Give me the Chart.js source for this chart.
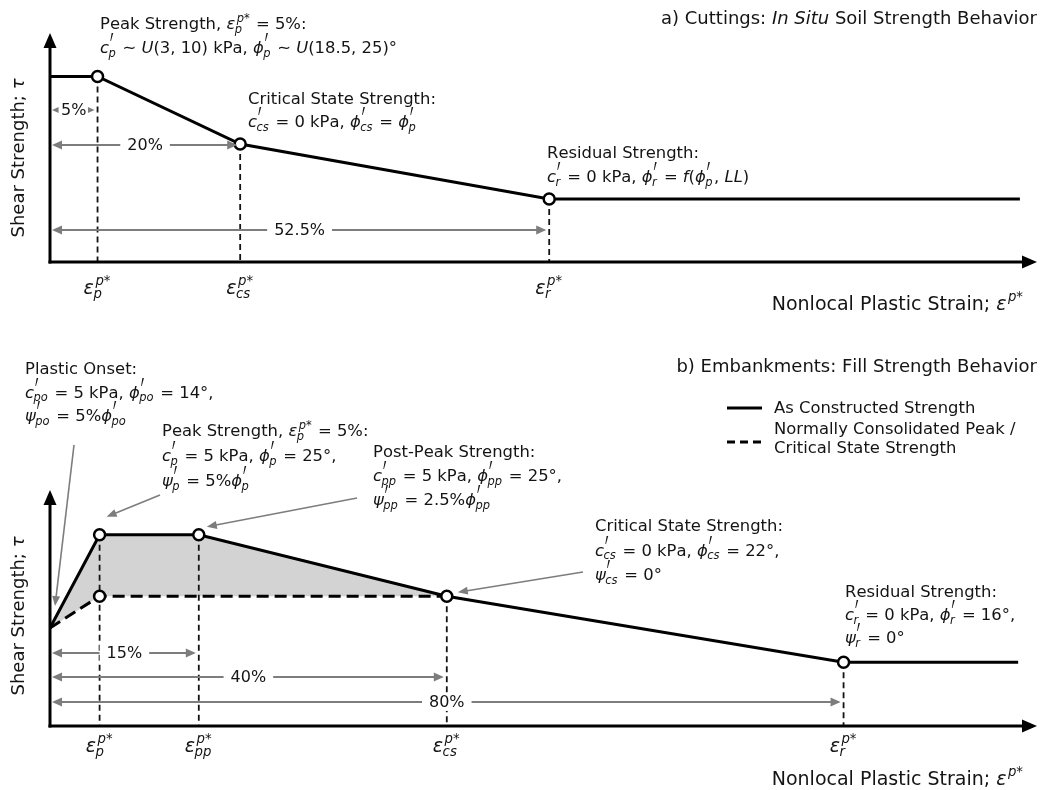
<!DOCTYPE html>
<html>
<head>
<meta charset="utf-8">
<script src="https://cdn.jsdelivr.net/npm/chart.js@4.4.0/dist/chart.umd.min.js"></script>
<style>
  html, body { margin: 0; padding: 0; background: #fff; }
  #wrap { position: relative; width: 1042px; height: 790px; overflow: hidden; }
  canvas { position: absolute; left: 0; }
  #cutCanvas { top: 0; }
  #fillCanvas { top: 330px; }
</style>
</head>
<body>
<div id="wrap">
  <canvas id="cutCanvas" width="1042" height="330"></canvas>
  <canvas id="fillCanvas" width="1042" height="460"></canvas>
</div>
<script>
// ---- a) Cuttings: in situ soil strength path (strain in %, strength in relative units) ----
const cutStrain   = [0, 5, 20, 52.5, 102];
const cutStrength = [81, 81, 51.5, 27.5, 27.5];
const cutMarked   = [false, true, true, true, false];
const cutTickStrain = [5, 20, 52.5];
const cutTickLabels = ['$\\epsilon_p^{p*}$', '$\\epsilon_{cs}^{p*}$', '$\\epsilon_r^{p*}$'];

// ---- b) Embankments: fill strength paths ----
const fillStrain   = [0, 5, 15, 40, 80, 97.6];
const fillStrength = [41.5, 81, 81, 55, 27, 27];
const fillMarked   = [false, true, true, true, true, false];
const ncStrain   = [0, 5, 40];
const ncStrength = [41.5, 55, 55];
const ncMarked   = [false, true, false];
const fillTickStrain = [5, 15, 40, 80];
const fillTickLabels = ['$\\epsilon_p^{p*}$', '$\\epsilon_{pp}^{p*}$', '$\\epsilon_{cs}^{p*}$', '$\\epsilon_r^{p*}$'];
const fillSpanStrain = [15, 40, 80];

const seriesLabels = ['As Constructed Strength', 'Normally Consolidated Peak /\nCritical State Strength'];

const FONT = '"DejaVu Sans", "Liberation Sans", sans-serif';
const SIZE = 16.4;
const INK = '#141414';
const GUIDE = '#7d7d7d';
const SHADE = '#d3d3d3';

// ---------- small TeX-like text renderer ($...$ = math, _ sub, ^ sup, ' prime) ----------
const SYMBOLS = { phi: '\u03D5', psi: '\u03C8', epsilon: '\u03B5', tau: '\u03C4', sim: '\u223C' };

function parseRich(src) {
  const atoms = [];
  let math = false;
  for (let i = 0; i < src.length;) {
    const ch = src[i];
    if (ch === '$') { math = !math; i++; continue; }
    if (!math) { atoms.push({ b: ch, it: false }); i++; continue; }
    if (ch === '\\') {
      let j = i + 1;
      while (j < src.length && /[a-zA-Z]/.test(src[j])) j++;
      const name = src.slice(i + 1, j);
      atoms.push({ b: SYMBOLS[name], it: name !== 'sim' });
      i = j; continue;
    }
    if (ch === '_' || ch === '^') {
      let grp;
      if (src[i + 1] === '{') { const k = src.indexOf('}', i + 2); grp = src.slice(i + 2, k); i = k + 1; }
      else { grp = src[i + 1]; i += 2; }
      const last = atoms[atoms.length - 1];
      if (ch === '_') last.sub = grp; else last.sup = (last.sup || '') + grp;
      continue;
    }
    if (ch === "'") { atoms[atoms.length - 1].prime = true; i++; continue; }
    atoms.push({ b: ch, it: /[A-Za-z]/.test(ch) });
    i++;
  }
  return atoms;
}
function fontOf(size, it) { return (it ? 'italic ' : '') + size + 'px ' + FONT; }
function scriptRuns(s) { return [...s].map(ch => ({ ch, it: /[A-Za-z]/.test(ch) })); }
function measureScript(ctx, s, size) {
  let w = 0;
  for (const r of scriptRuns(s)) { ctx.font = fontOf(size, r.it); w += ctx.measureText(r.ch).width; }
  return w;
}
function drawScript(ctx, s, x, y, size) {
  for (const r of scriptRuns(s)) {
    ctx.font = fontOf(size, r.it);
    ctx.fillText(r.ch, x, y);
    x += ctx.measureText(r.ch).width;
  }
}
// prime glyph: about 0.46em tall, narrow, sitting just above cap height
const PRIME_SQUEEZE = 0.38;
function primeMetrics(ctx, size) {
  ctx.font = fontOf(100, false);
  const m = ctx.measureText('\u2032');
  const h = Math.max(1, m.actualBoundingBoxAscent + m.actualBoundingBoxDescent);
  const f = 100 * (0.46 * size) / h;
  ctx.font = fontOf(f, false);
  const mm = ctx.measureText('\u2032');
  return { f, asc: mm.actualBoundingBoxAscent, w: mm.width * PRIME_SQUEEZE };
}
function drawRich(ctx, src, x, y, opt = {}) {
  const size = opt.size || SIZE, ss = size * 0.7;
  const atoms = parseRich(src);
  const pm = primeMetrics(ctx, size);
  let w = 0;
  for (const a of atoms) {
    ctx.font = fontOf(size, a.it);
    a.w = ctx.measureText(a.b).width;
    const up = (a.sup ? measureScript(ctx, a.sup, ss) : 0) + (a.prime ? pm.w : 0);
    a.sw = Math.max(a.sub ? measureScript(ctx, a.sub, ss) : 0, up ? up + (a.it ? 1.5 : 0) : 0);
    if (a.sw) a.sw += 1;
    w += a.w + a.sw;
  }
  let cx = opt.align === 'right' ? x - w : opt.align === 'center' ? x - w / 2 : x;
  ctx.textAlign = 'left';
  ctx.textBaseline = 'alphabetic';
  ctx.fillStyle = opt.color || INK;
  for (const a of atoms) {
    ctx.font = fontOf(size, a.it);
    ctx.fillText(a.b, cx, y);
    cx += a.w;
    let ux = cx + (a.it ? 1.5 : 0);
    if (a.prime) {
      ctx.save();
      ctx.font = fontOf(pm.f, false);
      ctx.translate(ux - 0.5, y - 1.2 * size + pm.asc);
      ctx.scale(PRIME_SQUEEZE, 1);
      ctx.fillText('\u2032', 0, 0);
      ctx.restore();
      ux += pm.w;
    }
    if (a.sup) drawScript(ctx, a.sup, ux, y - size * 0.45, ss);
    if (a.sub) drawScript(ctx, a.sub, cx - (a.it ? 0.5 : 0), y + size * 0.22, ss);
    cx += a.sw;
  }
  return w;
}

function head(ctx, x1, y1, x2, y2, len, half) {
  const a = Math.atan2(y2 - y1, x2 - x1), c = Math.cos(a), s = Math.sin(a);
  ctx.beginPath();
  ctx.moveTo(x2, y2);
  ctx.lineTo(x2 - len * c + half * s, y2 - len * s - half * c);
  ctx.lineTo(x2 - len * c - half * s, y2 - len * s + half * c);
  ctx.closePath();
  ctx.fill();
}

// ---------- per-panel drawing: axes, drop lines, dimensions, notes ----------
function sketch(cfg) {
  return {
    id: 'sketch',
    beforeDatasetsDraw(chart) {
      const ctx = chart.ctx, area = chart.chartArea, xs = chart.scales.x, ys = chart.scales.y;
      ctx.save();
      ctx.strokeStyle = INK; ctx.lineWidth = 1.8; ctx.setLineDash([6, 4]);
      for (const v of cfg.ticks.values) {
        let hi = -Infinity;
        chart.data.datasets.forEach(ds => ds.data.forEach((p, j) => {
          if (p.x === v && ds.marked[j]) hi = Math.max(hi, p.y);
        }));
        const px = xs.getPixelForValue(v);
        ctx.beginPath();
        ctx.moveTo(px, ys.getPixelForValue(hi));
        ctx.lineTo(px, area.bottom);
        ctx.stroke();
      }
      ctx.restore();

      ctx.save();
      ctx.strokeStyle = '#000'; ctx.fillStyle = '#000'; ctx.lineWidth = 3;
      ctx.beginPath(); ctx.moveTo(area.left, area.bottom + 1.5); ctx.lineTo(area.left, area.top + 12); ctx.stroke();
      head(ctx, area.left, area.bottom, area.left, area.top, 15, 6.5);
      ctx.beginPath(); ctx.moveTo(area.left - 1.5, area.bottom); ctx.lineTo(area.right - 12, area.bottom); ctx.stroke();
      head(ctx, area.left, area.bottom, area.right, area.bottom, 15, 6.5);
      ctx.restore();
    },
    afterDraw(chart) {
      const ctx = chart.ctx, area = chart.chartArea, xs = chart.scales.x, ys = chart.scales.y;
      ctx.save();

      // dimension spans measured from the origin
      cfg.spans.values.forEach((v, i) => {
        const y = ys.getPixelForValue(cfg.spans.levels[i]);
        const xEnd = xs.getPixelForValue(v);
        const x1 = area.left + 2, x2 = xEnd - 3;
        const label = v + '%';
        ctx.font = fontOf(16, false);
        const w = ctx.measureText(label).width;
        const cx = (area.left + xEnd) / 2;
        const room = ((x2 - x1) - w) / 2 - 2;
        const len = Math.min(10, room), half = len * 0.45;
        ctx.setLineDash([]);
        ctx.strokeStyle = GUIDE; ctx.lineWidth = 2;
        ctx.beginPath(); ctx.moveTo(x1 + 2, y); ctx.lineTo(x2 - 2, y); ctx.stroke();
        ctx.fillStyle = '#fff';
        ctx.fillRect(cx - w / 2 - 7, y - 9, w + 14, 18);
        ctx.fillStyle = GUIDE;
        head(ctx, x2, y, x1, y, len, half);
        head(ctx, x1, y, x2, y, len, half);
        ctx.fillStyle = INK; ctx.textAlign = 'center'; ctx.textBaseline = 'middle';
        ctx.font = fontOf(16, false);
        ctx.fillText(label, cx, y + 1);
      });

      // callout arrows pointing at marked states
      for (const c of cfg.callouts || []) {
        const el = chart.getDatasetMeta(c.ds).data[c.idx];
        const tx = el.x + c.dx, ty = el.y + c.dy;
        const a = Math.atan2(ty - c.from[1], tx - c.from[0]);
        ctx.strokeStyle = GUIDE; ctx.fillStyle = GUIDE; ctx.lineWidth = 1.6;
        ctx.beginPath();
        ctx.moveTo(c.from[0], c.from[1]);
        ctx.lineTo(tx - 8 * Math.cos(a), ty - 8 * Math.sin(a));
        ctx.stroke();
        head(ctx, c.from[0], c.from[1], tx, ty, 10, 4);
      }

      // strain tick labels
      cfg.ticks.values.forEach((v, i) => {
        drawRich(ctx, cfg.ticks.labels[i], xs.getPixelForValue(v), cfg.ticks.baseline, { align: 'center', size: 19 });
      });

      // notes
      for (const n of cfg.notes) {
        n.lines.forEach((t, i) => drawRich(ctx, t, n.x, n.y + i * n.lh, {}));
      }

      // titles
      drawRich(ctx, cfg.title.text, cfg.title.x, cfg.title.y, { align: 'right', size: 18 });
      drawRich(ctx, cfg.xTitle.text, cfg.xTitle.x, cfg.xTitle.y, { align: 'right', size: 19 });
      ctx.save();
      ctx.translate(cfg.yTitle.x, area.bottom - cfg.yTitle.rise);
      ctx.rotate(-Math.PI / 2);
      drawRich(ctx, cfg.yTitle.text, 0, 6, { align: 'center', size: 18 });
      ctx.restore();

      // legend keyed from the datasets
      if (cfg.legend) {
        const L = cfg.legend;
        L.rows.forEach((r, i) => {
          const ds = chart.data.datasets[i];
          ctx.strokeStyle = ds.borderColor; ctx.lineWidth = ds.borderWidth;
          ctx.setLineDash(ds.legendDash || []);
          ctx.beginPath(); ctx.moveTo(L.x, r.y); ctx.lineTo(L.x + L.len, r.y); ctx.stroke();
          ctx.setLineDash([]);
          ds.label.split('\n').forEach((t, k) => drawRich(ctx, t, L.textX, r.textY[k], {}));
        });
      }
      ctx.restore();
    }
  };
}

function pathOf(xs, ys) { return xs.map((x, i) => ({ x, y: ys[i] })); }
function lineStyle(marked) {
  return {
    borderColor: '#000', borderWidth: 3, tension: 0,
    pointRadius: marked.map(m => (m ? 5.5 : 0)),
    pointBackgroundColor: '#fff', pointBorderColor: '#000', pointBorderWidth: 2.5,
    marked
  };
}
function baseOptions(xMax, pad) {
  return {
    responsive: false, animation: false, events: [],
    layout: { padding: { left: 50, right: 5, top: pad.top, bottom: pad.bottom } },
    scales: {
      x: { type: 'linear', min: 0, max: xMax, display: false },
      y: { type: 'linear', min: 0, max: 100, display: false }
    },
    plugins: {
      legend: { display: false }, tooltip: { enabled: false }, title: { display: false },
      filler: { drawTime: 'beforeDatasetsDraw' }
    }
  };
}

// ---------- a) Cuttings ----------
new Chart(document.getElementById('cutCanvas'), {
  type: 'line',
  data: {
    datasets: [Object.assign({ label: seriesLabels[0], data: pathOf(cutStrain, cutStrength), fill: false }, lineStyle(cutMarked))]
  },
  options: baseOptions(103.8, { top: 33, bottom: 68 }),
  plugins: [sketch({
    ticks: { values: cutTickStrain, labels: cutTickLabels, baseline: 294 },
    spans: { values: cutTickStrain, levels: [66.4, 51.1, 14] },
    notes: [
      { x: 100, y: 29, lh: 24, lines: ['Peak Strength, $\\epsilon_p^{p*}$ = 5%:',
                                       "$c'_p \\sim U(3, 10)$ kPa, $\\phi'_p \\sim U(18.5, 25)$°"] },
      { x: 248, y: 104, lh: 23, lines: ['Critical State Strength:',
                                        "$c'_{cs}$ = 0 kPa, $\\phi'_{cs} = \\phi'_p$"] },
      { x: 547, y: 158, lh: 24, lines: ['Residual Strength:',
                                        "$c'_r$ = 0 kPa, $\\phi'_r = f(\\phi'_p, LL)$"] }
    ],
    title: { text: 'a) Cuttings: $In Situ$ Soil Strength Behavior', x: 1037, y: 24 },
    xTitle: { text: 'Nonlocal Plastic Strain; $\\epsilon^{p*}$', x: 1024, y: 310 },
    yTitle: { text: 'Shear Strength; $\\tau$', x: 18, rise: 104 }
  })]
});

// ---------- b) Embankments ----------
new Chart(document.getElementById('fillCanvas'), {
  type: 'line',
  data: {
    datasets: [
      Object.assign({ label: seriesLabels[0], data: pathOf(fillStrain, fillStrength),
                      fill: { target: 1 }, backgroundColor: SHADE }, lineStyle(fillMarked)),
      Object.assign({ label: seriesLabels[1], data: pathOf(ncStrain, ncStrength), fill: false,
                      borderDash: [12, 6], legendDash: [8, 5] }, lineStyle(ncMarked))
    ]
  },
  options: baseOptions(99.5, { top: 160, bottom: 64 }),
  plugins: [sketch({
    ticks: { values: fillTickStrain, labels: fillTickLabels, baseline: 422 },
    spans: { values: fillSpanStrain, levels: [30.9, 20.8, 10.2] },
    callouts: [
      { from: [74, 115], ds: 0, idx: 0, dx: 5, dy: -22 },
      { from: [160, 165], ds: 0, idx: 1, dx: 7, dy: -18 },
      { from: [357, 168], ds: 0, idx: 2, dx: 8, dy: -8 },
      { from: [583, 242], ds: 0, idx: 3, dx: 11, dy: -4 }
    ],
    notes: [
      { x: 25, y: 44, lh: 23.5, lines: ['Plastic Onset:',
                                        "$c'_{po}$ = 5 kPa, $\\phi'_{po}$ = 14°,",
                                        "$\\psi'_{po}$ = 5%$\\phi'_{po}$"] },
      { x: 162, y: 106, lh: 25, lines: ['Peak Strength, $\\epsilon_p^{p*}$ = 5%:',
                                        "$c'_p$ = 5 kPa, $\\phi'_p$ = 25°,",
                                        "$\\psi'_p$ = 5%$\\phi'_p$"] },
      { x: 373, y: 127, lh: 24, lines: ['Post-Peak Strength:',
                                        "$c'_{pp}$ = 5 kPa, $\\phi'_{pp}$ = 25°,",
                                        "$\\psi'_{pp}$ = 2.5%$\\phi'_{pp}$"] },
      { x: 595, y: 201, lh: 24.5, lines: ['Critical State Strength:',
                                          "$c'_{cs}$ = 0 kPa, $\\phi'_{cs}$ = 22°,",
                                          "$\\psi'_{cs}$ = 0°"] },
      { x: 845, y: 267, lh: 23, lines: ['Residual Strength:',
                                        "$c'_r$ = 0 kPa, $\\phi'_r$ = 16°,",
                                        "$\\psi'_r$ = 0°"] }
    ],
    legend: { x: 727, len: 35, textX: 774, rows: [{ y: 78, textY: [83] }, { y: 112, textY: [104, 123] }] },
    title: { text: 'b) Embankments: Fill Strength Behavior', x: 1037, y: 42 },
    xTitle: { text: 'Nonlocal Plastic Strain; $\\epsilon^{p*}$', x: 1024, y: 455 },
    yTitle: { text: 'Shear Strength; $\\tau$', x: 18, rise: 110 }
  })]
});
</script>
</body>
</html>
